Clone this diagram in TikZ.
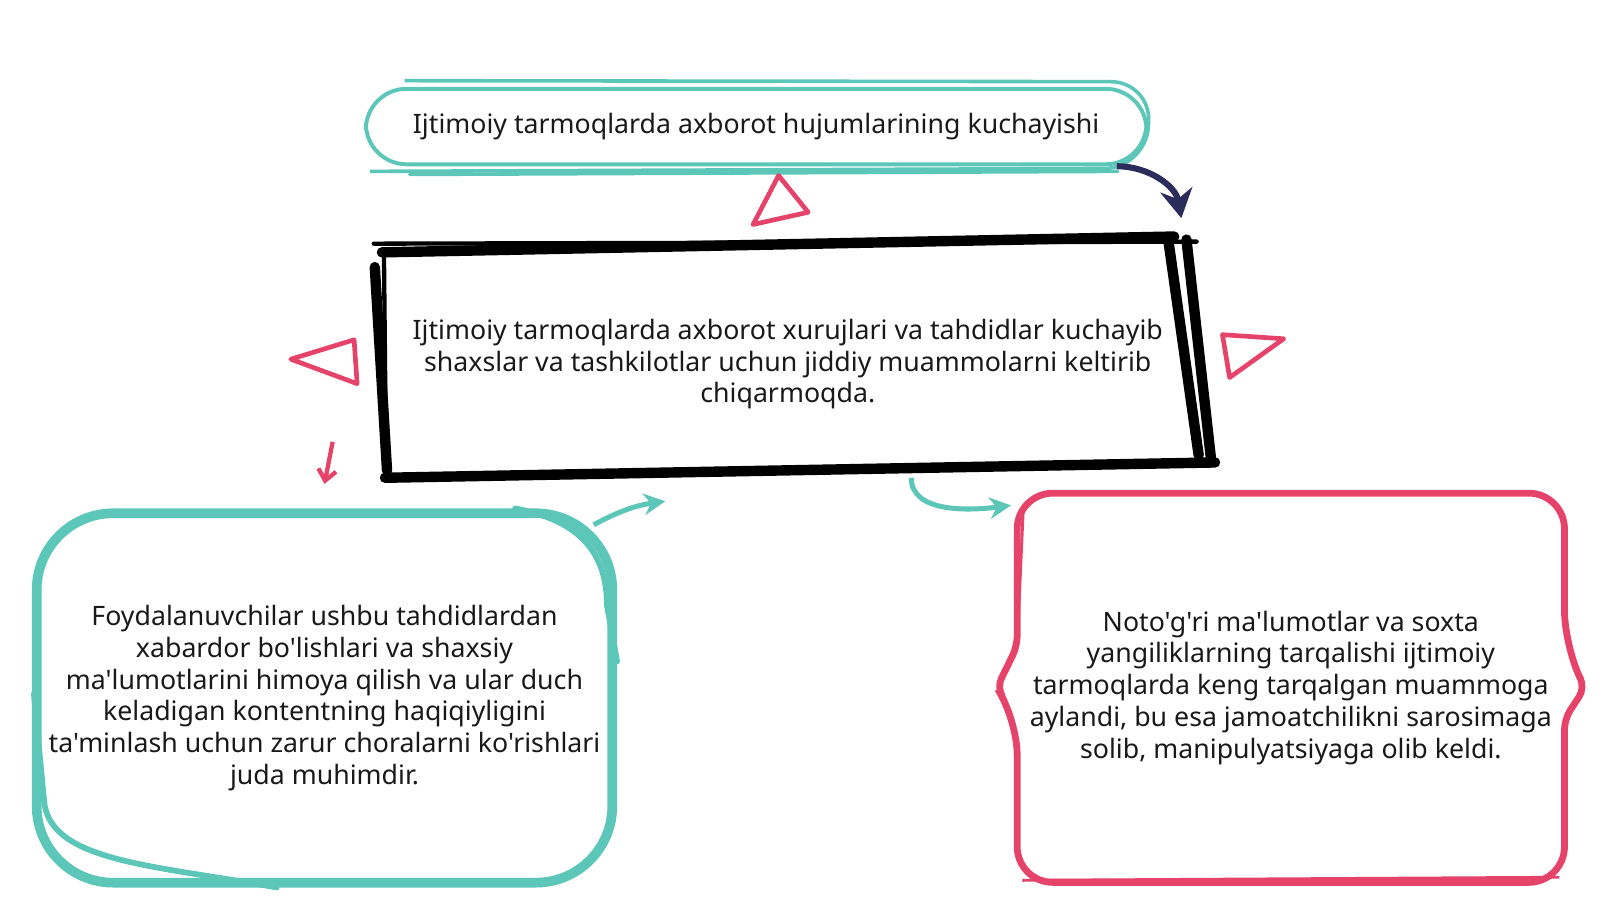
\documentclass[tikz,border=0pt]{standalone}
\usepackage{fontspec}
\setmainfont{Noto Sans}[Ligatures=TeXOff]
\usetikzlibrary{arrows.meta,calc}
\definecolor{sketchteal}{HTML}{5CC6B9}
\definecolor{sketchred}{HTML}{E6436A}
\definecolor{sketchnavy}{HTML}{2B2C5C}

\begin{document}
\begin{tikzpicture}[
    txt/.style={align=center, text=black!90, font=\fontsize{7.45}{8.85}\selectfont},
    pill/.style={txt, draw=sketchteal, line width=1.1pt, rounded corners=0.4cm,
                 minimum width=7.65cm, minimum height=0.74cm},
    frame/.style={txt, minimum width=7.8cm, minimum height=2.15cm},
    bubble/.style={txt, draw=sketchteal, line width=2.7pt, rounded corners=0.75cm,
                   minimum width=5.5cm, minimum height=3.62cm},
    brace/.style={txt, minimum width=5.25cm, minimum height=3.8cm},
    ink/.style={black, line width=2.9pt, line cap=round},
    thinink/.style={black, line width=1.2pt, line cap=round},
    tri/.style={draw=sketchred, line width=1.3pt, line join=round},
    navyarr/.style={-{Stealth[length=8pt, width=9pt]}, sketchnavy, line width=1.7pt},
    tealarr/.style={-{Stealth[length=6pt, width=6pt]}, sketchteal, line width=1.4pt},
    redarr/.style={-{Straight Barb[length=3pt, width=5pt]}, sketchred, line width=1.2pt}
  ]
    \useasboundingbox (0,0.18) rectangle (15.68,9);

    % boxes
    \node[pill]   (top) at (7.41,7.76) {Ijtimoiy tarmoqlarda axborot hujumlarining kuchayishi};
    \node[frame]  (mid) at (7.72,5.43) {Ijtimoiy tarmoqlarda axborot xurujlari va tahdidlar kuchayib\\
                                        shaxslar va tashkilotlar uchun jiddiy muammolarni keltirib\\
                                        chiqarmoqda.};
    \node[bubble] (lft) at (3.18,2.16) {Foydalanuvchilar ushbu tahdidlardan\\
                                        xabardor bo'lishlari va shaxsiy\\
                                        ma'lumotlarini himoya qilish va ular duch\\
                                        keladigan kontentning haqiqiyligini\\
                                        ta'minlash uchun zarur choralarni ko'rishlari\\
                                        juda muhimdir.};
    \node[brace]  (rgt) at (12.65,2.26) {Noto'g'ri ma'lumotlar va soxta\\
                                         yangiliklarning tarqalishi ijtimoiy\\
                                         tarmoqlarda keng tarqalgan muammoga\\
                                         aylandi, bu esa jamoatchilikni sarosimaga\\
                                         solib, manipulyatsiyaga olib keldi.};

    % second strokes of the teal pill
    \draw[sketchteal, line width=1pt, rounded corners=0.4cm]
      ([shift={(0.06,-0.05)}]top.south west) -- ([shift={(-0.03,-0.02)}]top.south east)
      -- ([shift={(0.03,0.05)}]top.north east) -- ([shift={(0.4,0.06)}]top.north west);
    \draw[sketchteal, line width=1pt, line cap=round]
      ([shift={(0.45,-0.08)}]top.south west) -- ([shift={(-0.3,-0.05)}]top.south east);

    % black frame, drawn by hand
    \draw[ink] ([shift={(-0.07,0.015)}]mid.north west) -- ([shift={(-0.12,0.17)}]mid.north east);
    \draw[ink] ([shift={(-0.18,0.15)}]mid.north east) -- ([shift={(0.12,0.19)}]mid.south east);
    \draw[ink] ([shift={(0.0,0.14)}]mid.north east) -- ([shift={(0.24,0.16)}]mid.south east);
    \draw[ink] ([shift={(0.28,0.12)}]mid.south east) -- ([shift={(-0.04,-0.03)}]mid.south west);
    \draw[ink] ([shift={(-0.14,-0.13)}]mid.north west) -- ([shift={(-0.02,0.04)}]mid.south west);
    \draw[thinink] ([shift={(-0.05,-0.03)}]mid.north west) -- ([shift={(-0.03,0.09)}]mid.south west);
    \draw[thinink] ([shift={(-0.15,0.1)}]mid.north west) -- ([shift={(0.1,0.12)}]mid.north east);

    % second strokes of the teal bubble
    \draw[sketchteal, line width=1.6pt, line cap=round]
      ([shift={(2.4,0.0)}]lft.south west) .. controls +(-1.2,0.22) and +(0.05,-0.6) ..
      ([shift={(0.12,0.85)}]lft.south west) -- ([shift={(0.02,1.9)}]lft.south west);
    \draw[sketchteal, line width=1.6pt, line cap=round]
      ([shift={(-1.0,0.0)}]lft.north east) .. controls +(0.65,-0.12) and +(0.0,0.5) ..
      ([shift={(-0.1,-0.95)}]lft.north east) -- ([shift={(0.0,-1.5)}]lft.north east);

    % red brace box
    \draw[sketchred, line width=1.9pt, rounded corners=0.35cm]
      (rgt.north west) -- (rgt.north east) -- ([yshift=-1.5cm]rgt.north east)
      [rounded corners=0.1cm] -- ([xshift=0.2cm]rgt.east) -- ([yshift=1.6cm]rgt.south east)
      [rounded corners=0.35cm] -- (rgt.south east) -- (rgt.south west) -- ([yshift=1.6cm]rgt.south west)
      [rounded corners=0.1cm] -- ([xshift=-0.2cm]rgt.west) -- ([yshift=-1.5cm]rgt.north west)
      [rounded corners=0.35cm] -- cycle;
    \draw[sketchred, line width=0.8pt, rounded corners=0.35cm]
      ([shift={(0.06,-0.15)}]rgt.north west) -- ([yshift=-1.5cm]rgt.north west);
    \draw[sketchred, line width=0.8pt, rounded corners=0.35cm]
      ([shift={(0.05,0.02)}]rgt.south west) -- ([shift={(-0.05,0.05)}]rgt.south east);

    % red triangles
    \draw[tri] (7.63,7.28) -- (7.92,6.92) -- (7.38,6.80) -- cycle;
    \draw[tri] (2.85,5.48) -- (3.47,5.67) -- (3.50,5.24) -- cycle;
    \draw[tri] (11.98,5.72) -- (12.58,5.68) -- (12.05,5.30) -- cycle;

    % connectors
    \coordinate (redtail) at (3.26,4.67);
    \draw[navyarr] ([xshift=-0.31cm]top.south east) to[out=0, in=100]
      ([shift={(-0.05,0.35)}]mid.north east);
    \draw[redarr] (redtail) -- ([yshift=0.24cm]lft.north);
    \draw[tealarr] ([shift={(-0.23,-0.16)}]lft.north east) to[bend left=10]
      ([shift={(-1.2,-0.26)}]mid.south);
    \draw[tealarr] ([shift={(1.21,-0.03)}]mid.south) .. controls +(0,-0.35) and +(-0.4,-0.05) ..
      ([shift={(-0.06,-0.12)}]rgt.north west);
\end{tikzpicture}
\end{document}
